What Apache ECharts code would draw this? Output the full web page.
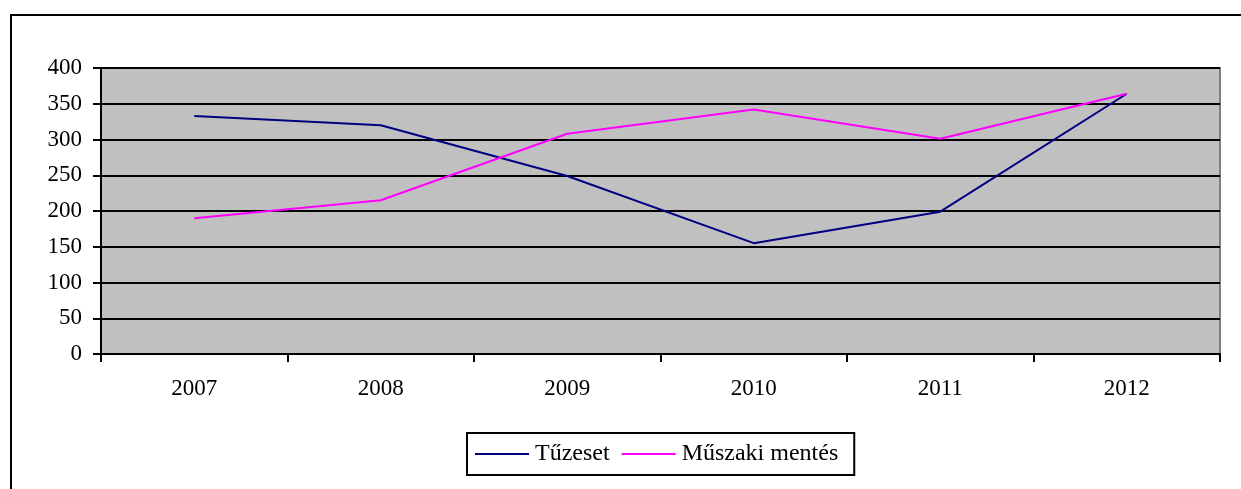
<!DOCTYPE html>
<html>
<head>
<meta charset="utf-8">
<script src="https://cdn.jsdelivr.net/npm/echarts@6/dist/echarts.min.js"></script>
<style>html,body{margin:0;padding:0;background:#fff;}#c{width:1241px;height:489px;}</style>
</head>
<body>
<div id="c"></div>
<script>
const categories = ['2007', '2008', '2009', '2010', '2011', '2012'];
const tuzeset = [333, 320, 249, 155, 199, 364];
const muszaki = [190, 215, 308, 342, 301, 364];
const seriesNames = ['Tűzeset', 'Műszaki mentés'];

const font = '"Liberation Serif", "Times New Roman", serif';
const chart = echarts.init(document.getElementById('c'), null, {renderer: 'canvas'});
chart.setOption({
  animation: false,
  backgroundColor: '#fff',
  graphic: [{
    type: 'rect', z: 100,
    shape: {x: 11, y: 15, width: 1400, height: 700},
    style: {fill: 'none', stroke: '#000', lineWidth: 2}
  }],
  grid: {
    left: 101, right: 21, top: 68, bottom: 135,
    show: true, backgroundColor: '#c0c0c0', borderColor: '#808080', borderWidth: 2
  },
  legend: {
    left: 467, top: 433,
    padding: [9, 16, 9, 8],
    itemGap: 12,
    itemWidth: 54, itemHeight: 2,
    borderColor: '#000', borderWidth: 2,
    backgroundColor: '#fff',
    icon: 'rect',
    textStyle: {fontFamily: font, fontSize: 24, color: '#000', padding: [0, 0, 0, 1]},
    data: seriesNames
  },
  xAxis: {
    type: 'category', data: categories, boundaryGap: true,
    axisLine: {lineStyle: {color: '#000', width: 2}},
    axisTick: {show: true, length: 8, lineStyle: {color: '#000', width: 2}},
    axisLabel: {fontFamily: font, fontSize: 23, color: '#000', margin: 23},
    splitLine: {show: false}
  },
  yAxis: {
    type: 'value', min: 0, max: 400, interval: 50,
    axisLine: {show: true, lineStyle: {color: '#000', width: 2}},
    axisTick: {show: true, length: 8, lineStyle: {color: '#000', width: 2}},
    axisLabel: {fontFamily: font, fontSize: 23, color: '#000', margin: 19},
    splitLine: {show: true, lineStyle: {color: '#000', width: 2}}
  },
  series: [
    {name: seriesNames[0], type: 'line', data: tuzeset, symbol: 'none',
     lineStyle: {color: '#000080', width: 2}, itemStyle: {color: '#000080'}},
    {name: seriesNames[1], type: 'line', data: muszaki, symbol: 'none',
     lineStyle: {color: '#ff00ff', width: 2}, itemStyle: {color: '#ff00ff'}}
  ]
});
</script>
</body>
</html>
